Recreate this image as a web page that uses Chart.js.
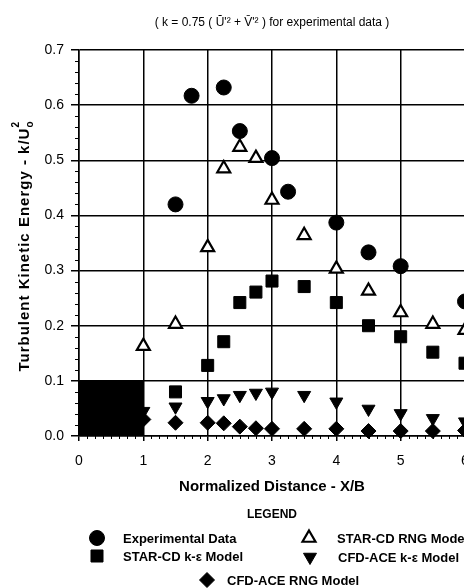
<!DOCTYPE html>
<html><head><meta charset="utf-8">
<script src="https://cdn.jsdelivr.net/npm/chart.js@4/dist/chart.umd.min.js"></script>
<style>html,body{margin:0;padding:0;overflow:hidden;background:#fff}canvas{display:block}</style>
</head><body>
<canvas id="c" width="544" height="588" style="width:544px;height:588px"></canvas>
<script>
// ---- data ----
const titleText = "( k = 0.75 ( \u016A'\u00B2 + V\u0304'\u00B2 ) for experimental data )";
const xTitle = "Normalized Distance - X/B";
const yTitleMain = "Turbulent Kinetic Energy - k/U";
const xTickValues = [0, 1, 2, 3, 4, 5, 6];
const yTickValues = [0.0, 0.1, 0.2, 0.3, 0.4, 0.5, 0.6, 0.7];

const expX = [1.5, 1.75, 2.25, 2.5, 3, 3.25, 4, 4.5, 5, 6];
const expY = [0.42, 0.617, 0.632, 0.553, 0.504, 0.443, 0.387, 0.333, 0.308, 0.244];

const starRngX = [1, 1.5, 2, 2.25, 2.5, 2.75, 3, 3.5, 4, 4.5, 5, 5.5, 6];
const starRngY = [0.163, 0.203, 0.342, 0.485, 0.524, 0.504, 0.428, 0.364, 0.303, 0.263, 0.224, 0.203, 0.192];

const starKeX = [1.5, 2, 2.25, 2.5, 2.75, 3, 3.5, 4, 4.5, 5, 5.5, 6];
const starKeY = [0.080, 0.128, 0.171, 0.242, 0.261, 0.281, 0.271, 0.242, 0.200, 0.180, 0.152, 0.132];

const aceKeX = [1, 1.5, 2, 2.25, 2.5, 2.75, 3, 3.5, 4, 4.5, 5, 5.5, 6];
const aceKeY = [0.045, 0.053, 0.063, 0.068, 0.074, 0.078, 0.080, 0.074, 0.062, 0.049, 0.041, 0.032, 0.026];

const aceRngX = [1, 1.5, 2, 2.25, 2.5, 2.75, 3, 3.5, 4, 4.5, 5, 5.5, 6];
const aceRngY = [0.030, 0.024, 0.024, 0.023, 0.017, 0.014, 0.013, 0.013, 0.013, 0.009, 0.009, 0.009, 0.010];

// solid body block (X/B 0..1, height 0.1)
const blockX = [0, 1];
const blockY = [0.1, 0.1];

const legendNames = ["Experimental Data", "STAR-CD RNG Model", "STAR-CD k-\u03B5 Model", "CFD-ACE k-\u03B5 Model", "CFD-ACE RNG Model"];

// ---- build ----
const pts = (xs, ys) => xs.map((x, i) => ({x: x, y: ys[i]}));
const FONT = '"Liberation Sans", Arial, Helvetica, sans-serif';

const markerStyles = [
  {pointStyle: 'circle', radius: 7.5, bg: '#000', border: '#000', bw: 1},
  {pointStyle: 'triangle', radius: 7.5, bg: '#fff', border: '#000', bw: 2.2},
  {pointStyle: 'rect', radius: 8.5, bg: '#000', border: '#000', bw: 1},
  {pointStyle: 'triangle', radius: 7.5, bg: '#000', border: '#000', bw: 1, rotation: 180},
  {pointStyle: 'rectRot', radius: 7.5, bg: '#000', border: '#000', bw: 1}
];
const seriesData = [pts(expX, expY), pts(starRngX, starRngY), pts(starKeX, starKeY), pts(aceKeX, aceKeY), pts(aceRngX, aceRngY)];

const datasets = seriesData.map((d, i) => ({
  label: legendNames[i],
  data: d,
  showLine: false,
  pointStyle: markerStyles[i].pointStyle,
  pointRadius: markerStyles[i].radius,
  pointHoverRadius: markerStyles[i].radius,
  pointBackgroundColor: markerStyles[i].bg,
  pointBorderColor: markerStyles[i].border,
  pointBorderWidth: markerStyles[i].bw,
  pointRotation: markerStyles[i].rotation || 0,
  clip: false,
  order: 1
}));
datasets.push({
  label: 'body',
  data: pts(blockX, blockY),
  showLine: true,
  fill: 'origin',
  backgroundColor: '#000',
  borderColor: '#000',
  borderWidth: 1,
  pointRadius: 0,
  order: 5
});

function drawMarker(ctx, st, x, y) {
  ctx.save();
  ctx.fillStyle = st.bg; ctx.strokeStyle = st.border; ctx.lineWidth = st.bw;
  if (Chart.helpers && Chart.helpers.drawPoint) {
    Chart.helpers.drawPoint(ctx, {pointStyle: st.pointStyle, rotation: st.rotation || 0, radius: st.radius, borderWidth: st.bw}, x, y);
  } else {
    ctx.beginPath(); ctx.arc(x, y, st.radius, 0, Math.PI * 2); ctx.fill(); ctx.stroke();
  }
  ctx.restore();
}

const decor = {
  id: 'decor',
  afterDraw(chart) {
    const ctx = chart.ctx, ca = chart.chartArea;
    const xs = chart.scales.x, ys = chart.scales.y;
    ctx.save();
    // minor ticks
    ctx.strokeStyle = '#000'; ctx.lineWidth = 1;
    for (let k = 0; k <= 35; k++) {
      if (k % 5 === 0) continue;
      const py = Math.round(ys.getPixelForValue(k * 0.02)) + 0.5;
      ctx.beginPath(); ctx.moveTo(ca.left - 4, py); ctx.lineTo(ca.left, py); ctx.stroke();
    }
    for (let k = 0; k <= 56; k++) {
      if (k % 8 === 0) continue;
      const px = Math.round(xs.getPixelForValue(k * 0.125)) + 0.5;
      ctx.beginPath(); ctx.moveTo(px, ca.bottom); ctx.lineTo(px, ca.bottom + 3); ctx.stroke();
    }
    ctx.fillStyle = '#000';
    ctx.textAlign = 'center'; ctx.textBaseline = 'middle';
    // title
    ctx.font = '12px ' + FONT;
    ctx.fillText(titleText, (ca.left + ca.right) / 2, 23);
    // x title
    ctx.font = 'bold 15px ' + FONT;
    ctx.fillText(xTitle, (ca.left + ca.right) / 2, 487);
    // y title rotated
    ctx.save();
    ctx.translate(24, 246);
    ctx.rotate(-Math.PI / 2);
    try { ctx.letterSpacing = '1px'; } catch (e) {}
    ctx.font = 'bold 15px ' + FONT;
    const wMain = ctx.measureText(yTitleMain).width;
    ctx.font = 'bold 10px ' + FONT;
    const wSub = ctx.measureText('o').width;
    const total = wMain + wSub;
    let sx = -total / 2;
    ctx.textAlign = 'left'; ctx.textBaseline = 'alphabetic';
    ctx.font = 'bold 15px ' + FONT;
    ctx.fillText(yTitleMain, sx, 5);
    ctx.font = 'bold 10px ' + FONT;
    ctx.fillText('o', sx + wMain, 9);
    ctx.fillText('2', sx + wMain, -5);
    try { ctx.letterSpacing = '0px'; } catch (e) {}
    ctx.restore();
    // legend
    ctx.textAlign = 'center'; ctx.textBaseline = 'middle';
    ctx.font = 'bold 12px ' + FONT;
    ctx.fillText('LEGEND', (ca.left + ca.right) / 2, 515);
    ctx.font = 'bold 13px ' + FONT;
    ctx.textAlign = 'left';
    const items = [
      [0, 97, 538, 123], [1, 309, 538, 337],
      [2, 97, 556, 123], [3, 310, 557, 338],
      [4, 207, 580, 227]
    ];
    items.forEach(([i, mx, my, tx]) => {
      drawMarker(ctx, markerStyles[i], mx, my);
      ctx.fillStyle = '#000';
      ctx.fillText(legendNames[i], tx, my + 1);
    });
    ctx.restore();
  }
};

new Chart(document.getElementById('c'), {
  type: 'scatter',
  data: {datasets: datasets},
  options: {
    responsive: false,
    animation: false,
    devicePixelRatio: 1,
    layout: {padding: {top: 50, right: 79, left: 0, bottom: 0}},
    plugins: {legend: {display: false}, tooltip: {enabled: false}, title: {display: false}},
    scales: {
      x: {
        type: 'linear', min: 0, max: 6,
        afterBuildTicks: s => { s.ticks = xTickValues.map(v => ({value: v})); },
        ticks: {color: '#000', font: {family: FONT, size: 14}, padding: 12, maxRotation: 0},
        grid: {color: '#000', lineWidth: 1.5, tickLength: 5},
        border: {color: '#000', width: 1.5},
        afterFit: s => { s.height = 152; }
      },
      y: {
        type: 'linear', min: 0, max: 0.7,
        afterBuildTicks: s => { s.ticks = yTickValues.map(v => ({value: v})); },
        ticks: {color: '#000', font: {family: FONT, size: 14}, padding: 7, callback: v => Number(v).toFixed(1)},
        grid: {color: '#000', lineWidth: 1.5, tickLength: 8},
        border: {color: '#000', width: 1.5},
        afterFit: s => { s.width = 79; }
      }
    }
  },
  plugins: [decor]
});
</script>
</body></html>
